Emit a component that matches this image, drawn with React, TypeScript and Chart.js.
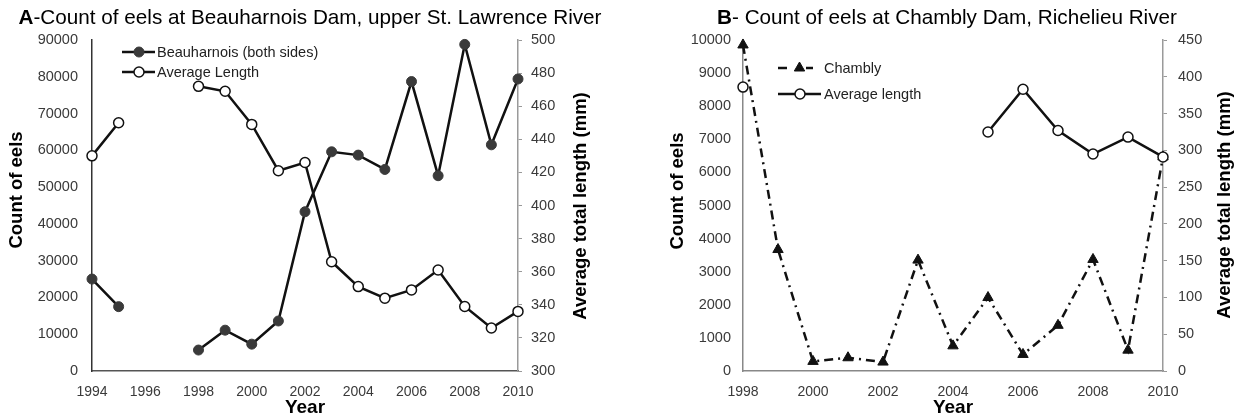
import React, { useEffect, useRef } from 'react';
import { Chart, registerables } from 'chart.js';
Chart.register(...registerables);

const FONT = '"Liberation Sans", Arial, Helvetica, sans-serif';

// ---------- Panel A data ----------
const yearsA = [1994, 1995, 1996, 1997, 1998, 1999, 2000, 2001, 2002, 2003, 2004, 2005, 2006, 2007, 2008, 2009, 2010];
const beauharnoisCount = [25000, 17500, null, null, 5700, 11100, 7300, 13600, 43300, 59600, 58700, 54800, 78700, 53100, 88800, 61500, 79400];
const beauharnoisLength = [430, 450, null, null, 472, 469, 449, 421, 426, 366, 351, 344, 349, 361, 339, 326, 336];
const yearRangeA = [1994, 2010];
const countRangeA = [0, 90000, 10000];
const lengthRangeA = [300, 500, 20];

// ---------- Panel B data ----------
const yearsB = [1998, 1999, 2000, 2001, 2002, 2003, 2004, 2005, 2006, 2007, 2008, 2009, 2010];
const chamblyCount = [9850, 3670, 290, 400, 270, 3350, 760, 2220, 500, 1380, 3370, 630, 6470];
const chamblyLength = [386, null, null, null, null, null, null, 325, 383, 327, 295, 318, 291];
const yearRangeB = [1998, 2010];
const countRangeB = [0, 10000, 1000];
const lengthRangeB = [0, 450, 50];

const toXY = (xs: number[], ys: (number | null)[]) => xs.map((x, i) => ({ x, y: ys[i] }));

function drawMarker(ctx: CanvasRenderingContext2D, style: string, x: number, y: number, r: number, fill: string, stroke: string, bw: number) {
  ctx.beginPath();
  if (style === 'triangle') {
    let rad = 0;
    ctx.moveTo(x + Math.sin(rad) * r, y - Math.cos(rad) * r);
    rad += (2 * Math.PI) / 3;
    ctx.lineTo(x + Math.sin(rad) * r, y - Math.cos(rad) * r);
    rad += (2 * Math.PI) / 3;
    ctx.lineTo(x + Math.sin(rad) * r, y - Math.cos(rad) * r);
    ctx.closePath();
  } else {
    ctx.arc(x, y, r, 0, Math.PI * 2);
  }
  ctx.fillStyle = fill;
  ctx.fill();
  ctx.lineWidth = bw;
  ctx.strokeStyle = stroke;
  ctx.stroke();
}

const decorPlugin = {
  id: 'decor',
  afterDraw(chart: any, _args: any, opts: any) {
    const ctx: CanvasRenderingContext2D = chart.ctx;
    (opts.titles || []).forEach((t: any) => {
      ctx.save();
      ctx.translate(t.x, t.y);
      ctx.rotate(-Math.PI / 2);
      ctx.font = `bold 18.5px ${FONT}`;
      ctx.fillStyle = '#000';
      ctx.textAlign = 'center';
      ctx.textBaseline = 'middle';
      ctx.fillText(t.text, 0, 0);
      ctx.restore();
    });
    (opts.legend || []).forEach((it: any) => {
      const ds = chart.data.datasets[it.dataset];
      ctx.save();
      ctx.strokeStyle = ds.borderColor;
      ctx.lineWidth = ds.borderWidth;
      it.segments.forEach((s: number[]) => {
        ctx.beginPath();
        ctx.moveTo(s[0], it.y);
        ctx.lineTo(s[1], it.y);
        ctx.stroke();
      });
      drawMarker(ctx, ds.pointStyle || 'circle', it.mx, it.y, ds.pointRadius, ds.pointBackgroundColor, ds.pointBorderColor, ds.pointBorderWidth);
      ctx.font = `14.5px ${FONT}`;
      ctx.fillStyle = '#222';
      ctx.textAlign = 'left';
      ctx.textBaseline = 'middle';
      ctx.fillText(ds.label, it.tx, it.y + 1);
      ctx.restore();
    });
  },
};

const tickFont = { family: FONT, size: 14.5 };
const tickColor = '#3a3a3a';
const numLabel = (v: any) => String(v);

function makeOptions(p: any) {
  return {
    responsive: false,
    animation: false,
    events: [],
    layout: { padding: { top: 40, left: 0, right: 0, bottom: 0 } },
    plugins: {
      legend: { display: false },
      tooltip: { enabled: false },
      title: { display: false },
      decor: { titles: p.titles, legend: p.legend },
    },
    scales: {
      x: {
        type: 'linear',
        position: 'bottom',
        min: p.xRange[0],
        max: p.xRange[1],
        grid: { display: false, drawTicks: false },
        border: { display: true, color: p.xBorder, width: 1.5 },
        ticks: { stepSize: 2, font: { family: FONT, size: 14 }, color: tickColor, padding: 13, callback: numLabel, maxRotation: 0, autoSkip: false },
        title: { display: true, text: 'Year', font: { family: FONT, size: 19, weight: 'bold' }, color: '#000', padding: { top: 0, bottom: 0 } },
        afterFit: (s: any) => { s.height = 48; },
      },
      y: {
        type: 'linear',
        position: 'left',
        min: p.yRange[0],
        max: p.yRange[1],
        grid: { display: false, drawTicks: false },
        border: { display: true, color: p.yBorder, width: 1.5 },
        ticks: { stepSize: p.yRange[2], font: tickFont, color: tickColor, padding: p.yPad, callback: numLabel },
        afterFit: (s: any) => { s.width = p.leftW; },
      },
      y1: {
        type: 'linear',
        position: 'right',
        min: p.y1Range[0],
        max: p.y1Range[1],
        grid: { display: true, drawOnChartArea: false, drawTicks: true, tickLength: 4, color: '#999', lineWidth: 1 },
        border: { display: true, color: '#9a9a9a', width: 1.5 },
        ticks: { stepSize: p.y1Range[2], font: tickFont, color: tickColor, padding: p.y1Pad, callback: numLabel },
        afterFit: (s: any) => { s.width = p.rightW; },
      },
    },
  };
}

export default function App() {
  const refA = useRef<HTMLCanvasElement>(null);
  const refB = useRef<HTMLCanvasElement>(null);

  useEffect(() => {
    const chartA = new Chart(refA.current as HTMLCanvasElement, {
      type: 'line',
      data: {
        datasets: [
          {
            label: 'Beauharnois (both sides)',
            data: toXY(yearsA, beauharnoisCount),
            yAxisID: 'y',
            borderColor: '#111',
            borderWidth: 2.5,
            pointStyle: 'circle',
            pointRadius: 5,
            pointBackgroundColor: '#3a3a3a',
            pointBorderColor: '#3a3a3a',
            pointBorderWidth: 1,
            tension: 0,
            spanGaps: false,
            clip: false,
          },
          {
            label: 'Average Length',
            data: toXY(yearsA, beauharnoisLength),
            yAxisID: 'y1',
            borderColor: '#111',
            borderWidth: 2.5,
            pointStyle: 'circle',
            pointRadius: 5,
            pointBackgroundColor: '#fff',
            pointBorderColor: '#111',
            pointBorderWidth: 1.5,
            tension: 0,
            spanGaps: false,
            clip: false,
          },
        ],
      } as any,
      options: makeOptions({
        xRange: yearRangeA,
        yRange: countRangeA,
        y1Range: lengthRangeA,
        xBorder: '#555',
        yBorder: '#333',
        yPad: 14,
        y1Pad: 9,
        leftW: 92,
        rightW: 102,
        titles: [
          { text: 'Count of eels', x: 17, y: 190 },
          { text: 'Average total length (mm)', x: 581, y: 206 },
        ],
        legend: [
          { dataset: 0, y: 52, segments: [[122, 155]], mx: 139, tx: 157 },
          { dataset: 1, y: 72, segments: [[122, 155]], mx: 139, tx: 157 },
        ],
      }) as any,
      plugins: [decorPlugin],
    });

    const chartB = new Chart(refB.current as HTMLCanvasElement, {
      type: 'line',
      data: {
        datasets: [
          {
            label: 'Chambly',
            data: toXY(yearsB, chamblyCount),
            yAxisID: 'y',
            order: 1,
            borderColor: '#111',
            borderWidth: 2.5,
            borderDash: [9, 5, 2, 5],
            pointStyle: 'triangle',
            pointRadius: 6,
            pointBackgroundColor: '#111',
            pointBorderColor: '#111',
            pointBorderWidth: 1,
            tension: 0,
            clip: false,
          },
          {
            label: 'Average length',
            data: toXY(yearsB, chamblyLength),
            yAxisID: 'y1',
            order: 0,
            borderColor: '#111',
            borderWidth: 2.5,
            pointStyle: 'circle',
            pointRadius: 5,
            pointBackgroundColor: '#fff',
            pointBorderColor: '#111',
            pointBorderWidth: 1.5,
            tension: 0,
            spanGaps: false,
            clip: false,
          },
        ],
      } as any,
      options: makeOptions({
        xRange: yearRangeB,
        yRange: countRangeB,
        y1Range: lengthRangeB,
        xBorder: '#888',
        yBorder: '#888',
        yPad: 12,
        y1Pad: 11,
        leftW: 123,
        rightW: 79,
        titles: [
          { text: 'Count of eels', x: 58, y: 191 },
          { text: 'Average total length (mm)', x: 605, y: 205 },
        ],
        legend: [
          { dataset: 0, y: 68, segments: [[158, 167], [186, 193]], mx: 179.5, tx: 204 },
          { dataset: 1, y: 94, segments: [[158, 201]], mx: 180, tx: 204 },
        ],
      }) as any,
      plugins: [decorPlugin],
    });

    return () => {
      chartA.destroy();
      chartB.destroy();
    };
  }, []);

  const titleStyle: React.CSSProperties = {
    position: 'absolute',
    top: 7,
    transform: 'translateX(-50%)',
    font: `20.7px ${FONT}`,
    lineHeight: '20px',
    whiteSpace: 'nowrap',
    color: '#000',
  };

  return (
    <div style={{ position: 'absolute', left: 0, top: 0, width: 1242, height: 419, background: '#fff', overflow: 'hidden' }}>
      <canvas ref={refA} width={620} height={419} style={{ position: 'absolute', left: 0, top: 0 }} />
      <canvas ref={refB} width={622} height={419} style={{ position: 'absolute', left: 620, top: 0 }} />
      <div style={{ ...titleStyle, left: 310 }}>
        <b>A</b>-Count of eels at Beauharnois Dam, upper St. Lawrence River
      </div>
      <div style={{ ...titleStyle, left: 947 }}>
        <b>B</b>- Count of eels at Chambly Dam, Richelieu River
      </div>
    </div>
  );
}
